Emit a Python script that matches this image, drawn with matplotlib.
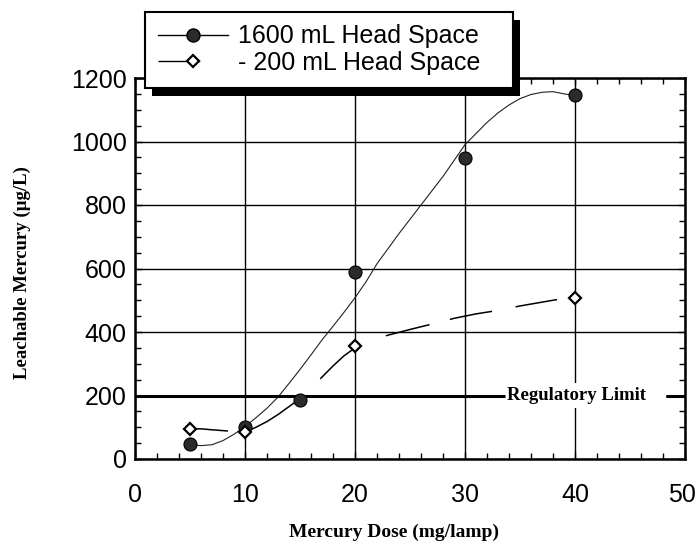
import matplotlib
matplotlib.use("Agg")
import matplotlib.pyplot as plt
from matplotlib.lines import Line2D
from matplotlib.patches import Rectangle
from matplotlib.transforms import IdentityTransform, ScaledTranslation
from matplotlib.ticker import MultipleLocator

# measured points
dose_1600 = [5, 10, 15, 20, 30, 40]
hg_1600 = [48, 100, 186, 588, 948, 1147]
dose_200 = [5, 10, 20, 40]
hg_200 = [95, 85, 356, 507]

# hand-drawn trend curves
fit_x_1600 = [5, 6, 7, 8, 9, 10, 11, 12, 13, 14, 15, 16, 17, 18, 19, 20,
              21, 22, 24, 26, 28, 30, 31, 32, 33, 34, 35, 36, 37, 38, 39, 40]
fit_y_1600 = [45, 42, 45, 58, 78, 102, 130, 160, 195, 238, 282, 328, 375, 418,
              462, 508, 558, 615, 710, 800, 890, 990, 1025, 1060, 1090, 1115,
              1135, 1148, 1155, 1157, 1150, 1145]
fit_x_200 = [5, 6, 7, 8.5, 10, 11, 12, 13, 14, 15, 16, 17, 18, 19, 20, 21,
             22, 23, 25, 27, 29, 31, 33, 35, 37, 38.5, 40]
fit_y_200 = [95, 95, 92, 88, 85, 100, 118, 140, 165, 190, 222, 258, 293, 325,
             350, 368, 380, 390, 408, 425, 443, 457, 468, 482, 494, 503, 507]

labels = ["1600 mL Head Space", "- 200 mL Head Space"]
reg_limit = 200
reg_label = "Regulatory Limit"

SANS = "Liberation Sans"
SERIF = "Liberation Serif"

fig = plt.figure(figsize=(6.97, 5.43), dpi=100)
ax = fig.add_axes([135 / 697, 1 - 459 / 543, 550 / 697, 381 / 543])

ax.plot(fit_x_1600, fit_y_1600, color="#222222", lw=0.8, zorder=3)
line200, = ax.plot(fit_x_200, fit_y_200, color="black", lw=1.1, zorder=3)
# uneven long dashes as in the scan (on/off lengths in px)
dash_px = [38, 16, 66, 28, 45, 35, 45, 21, 43, 24, 42, 40]
line200.set_dashes([d / (1.389 * 1.1) for d in dash_px])
ax.plot(dose_1600, hg_1600, ls="none", marker="o", ms=9.4, mfc="#2b2b2b",
        mec="black", mew=0.8, zorder=5)
ax.plot(dose_200, hg_200, ls="none", marker="D", ms=6.4, mfc="white",
        mec="black", mew=1.6, zorder=5)

# regulatory limit line, broken where its label sits
ax.hlines(reg_limit, 0, 33.6, color="black", lw=2.2, zorder=4)
ax.hlines(reg_limit, 48.3, 50, color="black", lw=2.2, zorder=4)
ax.add_patch(Rectangle((33.6, 160), 14.7, 80, fc="white", ec="none", zorder=2.5))
ax.text(33.85, reg_limit, reg_label, ha="left", va="center", fontsize=13.5,
        fontweight="bold", family=SERIF, zorder=6)

ax.set_xlim(0, 50)
ax.set_ylim(0, 1200)
ax.xaxis.set_major_locator(MultipleLocator(10))
ax.xaxis.set_minor_locator(MultipleLocator(2))
ax.yaxis.set_major_locator(MultipleLocator(200))
ax.yaxis.set_minor_locator(MultipleLocator(50))
ax.grid(True, which="major", color="black", lw=1.0, zorder=1)
ax.set_axisbelow(True)
for s in ax.spines.values():
    s.set_linewidth(1.8)
ax.tick_params(which="both", direction="in", top=True, right=True, width=1.0)
ax.tick_params(which="major", length=5)
ax.tick_params(which="minor", length=4)
ax.tick_params(axis="x", which="major", pad=17)
ax.tick_params(axis="y", which="major", pad=6)
ax.tick_params(labelsize=18)
for lab in ax.get_xticklabels() + ax.get_yticklabels():
    lab.set_family(SANS)

ax.set_xlabel("Mercury Dose (mg/lamp)", family=SERIF, fontweight="bold",
              fontsize=14, va="center")
ax.xaxis.set_label_coords(0.471, -0.192)
ax.set_ylabel("Leachable Mercury (\u00b5g/L)", family=SERIF, fontweight="bold",
              fontsize=13.5, va="center")
ax.yaxis.set_label_coords(-0.205, 0.49)

h1 = Line2D([], [], color="black", lw=1.0, marker="o", ms=9.4,
            mfc="#2b2b2b", mec="black")
h2 = Line2D([], [], color="black", lw=1.0, marker="D", ms=6.4,
            mfc="white", mec="black", mew=1.6, dashes=(30, 30))
leg = fig.legend([h1, h2], labels, loc="upper left",
                 bbox_to_anchor=(145 / 697, 1 - 90 / 543, 368 / 697, 78 / 543),
                 mode="expand", borderaxespad=0, borderpad=0.5,
                 labelspacing=0.1, handlelength=2.8, handletextpad=0.4,
                 numpoints=1, fancybox=False, framealpha=1,
                 edgecolor="black", prop={"family": SANS, "size": 18})
leg.get_frame().set_linewidth(1.5)
leg.set_zorder(10)

fig.canvas.draw()
# pull the "50" label in a little so it stays on the canvas
for tick in ax.xaxis.get_major_ticks():
    if abs(tick.get_loc() - 50) < 1e-6:
        tick.label1.set_horizontalalignment("right")
        tick.label1.set_transform(tick.label1.get_transform()
                                  + ScaledTranslation(8 / 72, 0, fig.dpi_scale_trans))

bb = leg.get_frame().get_window_extent()
shadow = Rectangle((bb.x0 + 7, bb.y0 - 8), bb.width, bb.height,
                   transform=IdentityTransform(), fc="black", ec="none",
                   zorder=9)
fig.add_artist(shadow)

fig.savefig("out.png", dpi=100)
